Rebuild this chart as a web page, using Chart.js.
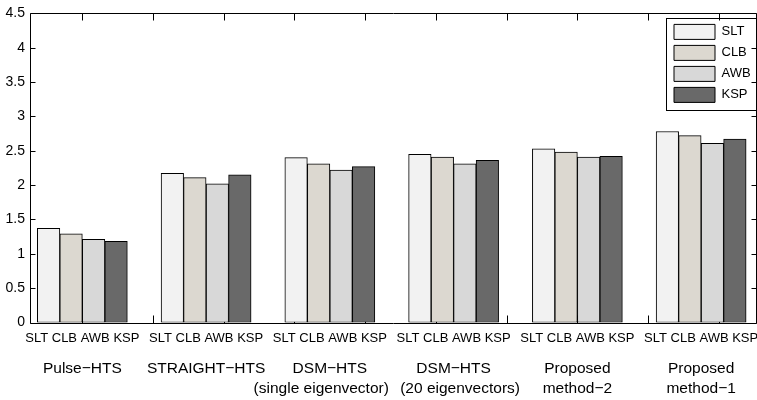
<!DOCTYPE html>
<html>
<head>
<meta charset="utf-8">
<script src="https://cdn.jsdelivr.net/npm/chart.js@4"></script>
<style>
  html, body { margin: 0; padding: 0; background: #fff; }
  #cadre { width: 757px; height: 400px; }
</style>
</head>
<body>
<div id="cadre"><canvas id="graphique"></canvas></div>
<script>
// Méthodes comparées (une barre par méthode dans chaque groupe)
const METHODES = ['SLT', 'CLB', 'AWB', 'KSP'];

// Systèmes évalués (une ligne de texte par élément)
// les espaces décalent un peu les sous-titres, comme sur la figure d'origine
const SYSTEMES = [
  ['Pulse−HTS'],
  ['STRAIGHT−HTS'],
  ['DSM−HTS', '(single eigenvector)    '],
  ['DSM−HTS', '   (20 eigenvectors)'],
  ['Proposed', 'method−2'],
  ['Proposed', 'method−1']
];

// Scores, un tableau par méthode
const SLT = [1.37, 2.17, 2.40, 2.45, 2.53, 2.78];
const CLB = [1.29, 2.11, 2.31, 2.41, 2.48, 2.72];
const AWB = [1.21, 2.02, 2.22, 2.31, 2.41, 2.61];
const KSP = [1.18, 2.15, 2.27, 2.36, 2.42, 2.67];

// Position de chaque groupe sur l'axe x (unités de l'axe d'origine)
const POSITIONS = [1, 2.75, 4.5, 6.25, 8, 9.75];

// Graduations de l'axe x d'origine (petits traits seulement)
const GRADUATIONS_X = [1, 2, 3, 4, 5, 6, 7, 8, 9, 10];

const COULEURS = ['#f2f2f2', '#dcd8d0', '#d8d8d8', '#696969'];
const SERIES = [SLT, CLB, AWB, KSP];

Chart.defaults.font.family = '"Liberation Sans", Arial, Helvetica, sans-serif';
Chart.defaults.color = '#000';

// Cadre noir + petits traits vers l'intérieur, comme sur la figure
const cadre = {
  id: 'cadre',
  beforeDatasetsDraw(chart) {
    const { ctx, chartArea: a, scales } = chart;
    const gauche = Math.round(a.left) + 0.5;
    const droite = Math.round(a.right) - 0.5;
    const haut = Math.round(a.top) + 0.5;
    const bas = Math.round(a.bottom) + 0.5;
    ctx.save();
    ctx.strokeStyle = '#000';
    ctx.lineWidth = 1;
    ctx.beginPath();
    GRADUATIONS_X.forEach(v => {
      const px = Math.round(scales.x.getPixelForValue(v)) + 0.5;
      ctx.moveTo(px, haut); ctx.lineTo(px, haut + 7);
      ctx.moveTo(px, bas); ctx.lineTo(px, bas - 8);
    });
    scales.y.ticks.forEach(t => {
      const py = Math.round(scales.y.getPixelForValue(t.value)) + 0.5;
      ctx.moveTo(gauche, py); ctx.lineTo(gauche + 5, py);
      ctx.moveTo(droite, py); ctx.lineTo(droite - 5, py);
    });
    ctx.moveTo(gauche, bas); ctx.lineTo(gauche, haut); ctx.lineTo(droite, haut);
    ctx.lineTo(droite, bas); ctx.lineTo(gauche, bas);
    ctx.stroke();
    ctx.restore();
  }
};

// La légende est posée dans le coin haut droit de la zone de tracé, avec un cadre
const legendeDansCadre = {
  id: 'legendeDansCadre',
  afterLayout(chart) {
    const l = chart.legend;
    const a = chart.chartArea;
    l.left = a.right - 89;
    l.right = a.right;
    l.top = a.top + 5;
    l.bottom = l.top + 150;
  },
  afterDraw(chart) {
    const l = chart.legend;
    const ctx = chart.ctx;
    ctx.save();
    ctx.strokeStyle = '#000';
    ctx.lineWidth = 1;
    ctx.strokeRect(Math.round(l.left) - 1.5, Math.round(l.top) + 0.5, 90, 92);
    ctx.restore();
  }
};

const datasets = METHODES.map((methode, i) => ({
  label: methode,
  data: POSITIONS.map((x, j) => ({ x: x, y: SERIES[i][j] })),
  backgroundColor: COULEURS[i],
  borderColor: '#000',
  borderWidth: 1,
  borderSkipped: false,
  barThickness: 22.5,
  xAxisID: 'x',
  yAxisID: 'y'
}));

const placerTicksGroupes = scale => {
  scale.ticks = POSITIONS.map(v => ({ value: v }));
};

new Chart(document.getElementById('graphique'), {
  type: 'bar',
  data: { datasets: datasets },
  options: {
    responsive: true,
    maintainAspectRatio: false,
    devicePixelRatio: 1,
    animation: false,
    layout: { padding: { top: 11, right: 0, bottom: 0, left: 0 } },
    plugins: {
      tooltip: { enabled: false },
      legend: {
        position: 'chartArea',
        align: 'start',
        labels: {
          boxWidth: 41,
          boxHeight: 15,
          padding: 6,
          font: { size: 13 },
          color: '#000'
        }
      }
    },
    scales: {
      x: {
        type: 'linear',
        position: 'bottom',
        weight: 0,
        offset: false,
        min: 0.26,
        max: 10.54,
        bounds: 'data',
        grid: { display: false, drawTicks: false, offset: false },
        border: { display: false },
        afterBuildTicks: placerTicksGroupes,
        afterFit: scale => {
          scale.height = 23;
          scale.paddingLeft = 0;
          scale.paddingRight = 0;
        },
        ticks: {
          autoSkip: false,
          maxRotation: 0,
          padding: 8,
          font: { size: 13 },
          callback: () => METHODES.join(' ')
        }
      },
      groupes: {
        type: 'linear',
        position: 'bottom',
        weight: 1,
        offset: false,
        min: 0.26,
        max: 10.54,
        bounds: 'data',
        grid: { display: false, drawTicks: false, offset: false },
        border: { display: false },
        afterBuildTicks: placerTicksGroupes,
        afterFit: scale => {
          scale.height = 54.5;
          scale.paddingLeft = 0;
          scale.paddingRight = 0;
        },
        ticks: {
          autoSkip: false,
          maxRotation: 0,
          padding: 14,
          font: { size: 15.5, lineHeight: 1.25 },
          callback: (valeur, index) => SYSTEMES[index]
        }
      },
      y: {
        min: 0,
        max: 4.5,
        grid: { display: false, drawTicks: false },
        border: { display: false },
        afterFit: scale => { scale.width = 30; },
        ticks: {
          stepSize: 0.5,
          padding: 5,
          font: { size: 14 },
          callback: valeur => String(Math.round(valeur * 10) / 10)
        }
      }
    }
  },
  plugins: [cadre, legendeDansCadre]
});
</script>
</body>
</html>
